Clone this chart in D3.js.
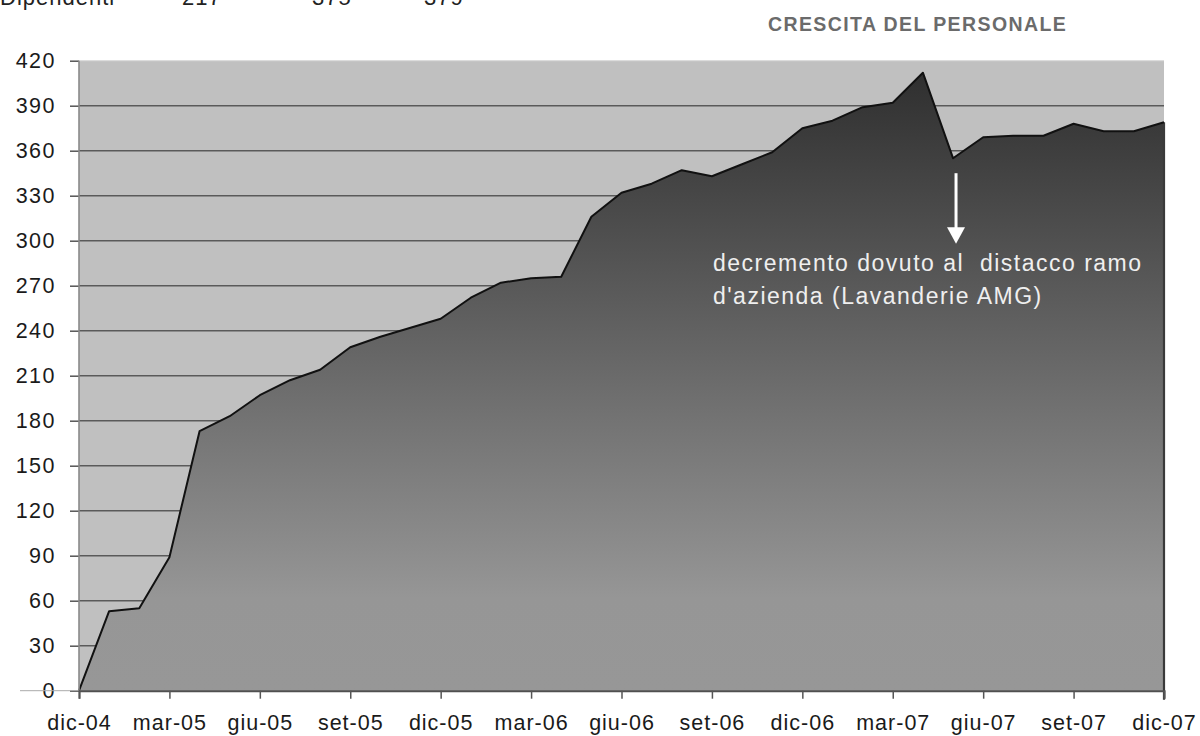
<!DOCTYPE html>
<html>
<head>
<meta charset="utf-8">
<script src="https://cdn.jsdelivr.net/npm/d3@7"></script>
<style>
  body { margin: 0; background: #fff; }
  svg { display: block; font-family: "Liberation Sans", Arial, sans-serif; }
</style>
</head>
<body>
<div id="chart"></div>
<script>
// monthly headcount, dic-04 .. dic-07
const months = [
  "dic-04", "gen-05", "feb-05", "mar-05", "apr-05", "mag-05", "giu-05", "lug-05", "ago-05",
  "set-05", "ott-05", "nov-05", "dic-05", "gen-06", "feb-06", "mar-06", "apr-06", "mag-06",
  "giu-06", "lug-06", "ago-06", "set-06", "ott-06", "nov-06", "dic-06", "gen-07", "feb-07",
  "mar-07", "apr-07", "mag-07", "giu-07", "lug-07", "ago-07", "set-07", "ott-07", "nov-07", "dic-07"
];
const staff = [
  0, 53, 55, 89, 173, 183, 197, 207, 214,
  229, 236, 242, 248, 262, 272, 275, 276, 316,
  332, 338, 347, 343, 351, 359, 375, 380, 389,
  392, 412, 355, 369, 370, 370, 378, 373, 373, 379
];
const tickLabels = ["dic-04", "mar-05", "giu-05", "set-05", "dic-05", "mar-06", "giu-06",
  "set-06", "dic-06", "mar-07", "giu-07", "set-07", "dic-07"];
const yTicks = [0, 30, 60, 90, 120, 150, 180, 210, 240, 270, 300, 330, 360, 390, 420];
const headerLabels = ["Dipendenti", "217", "375", "379"];

const W = 1200, H = 736;
const plot = { left: 79, right: 1164, top: 60.7, bottom: 690.7 };

const svg = d3.select("#chart").append("svg")
  .attr("width", W)
  .attr("height", H);

const x = d3.scalePoint().domain(months).range([plot.left, plot.right]);
const y = d3.scaleLinear().domain([0, 420]).range([plot.bottom, plot.top]);

// header row, cut off at the top of the page like in the source
const headerX = [0, 182, 312, 424];
svg.selectAll("text.header")
  .data(headerLabels)
  .enter().append("text")
  .attr("class", "header")
  .attr("x", (d, i) => headerX[i])
  .attr("y", 5)
  .attr("fill", "#222")
  .style("font-size", "22px")
  .style("letter-spacing", "1px")
  .text(d => d);

svg.append("text")
  .attr("x", 768)
  .attr("y", 31)
  .attr("fill", "#6b6b6b")
  .style("font-size", "19.5px")
  .style("font-weight", "bold")
  .style("letter-spacing", "1.4px")
  .text("CRESCITA DEL PERSONALE");

// plot background
svg.append("rect")
  .attr("x", plot.left)
  .attr("y", plot.top)
  .attr("width", plot.right - plot.left)
  .attr("height", plot.bottom - plot.top)
  .attr("fill", "#c0c0c0");

svg.append("line")
  .attr("x1", plot.left).attr("x2", plot.right)
  .attr("y1", plot.top).attr("y2", plot.top)
  .attr("stroke", "#d8d8d8")
  .attr("stroke-width", 1);

// gridlines
svg.append("g")
  .selectAll("line")
  .data(yTicks.filter(d => d > 0 && d < 420))
  .enter().append("line")
  .attr("x1", plot.left).attr("x2", plot.right)
  .attr("y1", d => y(d)).attr("y2", d => y(d))
  .attr("stroke", "#5a5a5a")
  .attr("stroke-width", 1.6);

// gradient for the area
const defs = svg.append("defs");
const grad = defs.append("linearGradient")
  .attr("id", "areaFill")
  .attr("gradientUnits", "userSpaceOnUse")
  .attr("x1", 0).attr("x2", 0)
  .attr("y1", y(d3.max(staff))).attr("y2", y(0));
grad.append("stop").attr("offset", "0%").attr("stop-color", "#2f2f2f");
grad.append("stop").attr("offset", "85%").attr("stop-color", "#969696");
grad.append("stop").attr("offset", "100%").attr("stop-color", "#979797");

const series = months.map((m, i) => ({ m: m, v: staff[i] }));

const area = d3.area()
  .x(d => x(d.m))
  .y0(y(0))
  .y1(d => y(d.v));

svg.append("path")
  .datum(series)
  .attr("d", area)
  .attr("fill", "url(#areaFill)")
  .attr("stroke", "none");

// right edge of the area
svg.append("line")
  .attr("x1", x("dic-07")).attr("x2", x("dic-07"))
  .attr("y1", y(staff[staff.length - 1])).attr("y2", plot.bottom + 9)
  .attr("stroke", "#3a3a3a")
  .attr("stroke-width", 2.2);

const line = d3.line()
  .x(d => x(d.m))
  .y(d => y(d.v));

svg.append("path")
  .datum(series)
  .attr("d", line)
  .attr("fill", "none")
  .attr("stroke", "#111")
  .attr("stroke-width", 2)
  .attr("stroke-linejoin", "round");

// y axis
const yAxis = svg.append("g")
  .attr("transform", `translate(${plot.left},0)`)
  .call(d3.axisLeft(y).tickValues(yTicks).tickSize(9).tickPadding(14));
yAxis.select(".domain").remove();
yAxis.selectAll(".tick line").attr("stroke", "#555").attr("stroke-width", 1.5);
yAxis.selectAll(".tick text")
  .attr("fill", "#1a1a1a")
  .style("font-size", "21.5px")
  .style("letter-spacing", "1.5px")
  .style("font-family", "'Liberation Sans', Arial, sans-serif");

svg.append("line")
  .attr("x1", plot.left).attr("x2", plot.left)
  .attr("y1", plot.top).attr("y2", plot.bottom)
  .attr("stroke", "#8a8a8a")
  .attr("stroke-width", 1.6);

// faint line through the zero label
svg.append("line")
  .attr("x1", 20).attr("x2", plot.left)
  .attr("y1", y(0)).attr("y2", y(0))
  .attr("stroke", "#aaa")
  .attr("stroke-width", 1);

// x axis
const xAxis = svg.append("g")
  .attr("transform", `translate(0,${plot.bottom})`)
  .call(d3.axisBottom(x).tickValues(tickLabels).tickSize(8).tickPadding(16));
xAxis.select(".domain")
  .attr("stroke", "#505050")
  .attr("stroke-width", 2);
xAxis.selectAll(".tick line").attr("stroke", "#555").attr("stroke-width", 1.5);
xAxis.selectAll(".tick text")
  .attr("fill", "#1a1a1a")
  .style("font-size", "21.5px")
  .style("letter-spacing", "1px")
  .style("font-family", "'Liberation Sans', Arial, sans-serif");

// annotation
const arrowX = x("mag-07") + 3;
svg.append("line")
  .attr("x1", arrowX).attr("x2", arrowX)
  .attr("y1", y(345)).attr("y2", y(307))
  .attr("stroke", "#fff")
  .attr("stroke-width", 3);
svg.append("path")
  .attr("d", `M${arrowX - 9},${y(309)} L${arrowX + 9},${y(309)} L${arrowX},${y(298)} Z`)
  .attr("fill", "#fff");

const note = ["decremento dovuto al  distacco ramo", "d'azienda (Lavanderie AMG)"];
svg.selectAll("text.note")
  .data(note)
  .enter().append("text")
  .attr("class", "note")
  .attr("x", x("set-06") + 1)
  .attr("y", (d, i) => 271 + i * 33)
  .attr("fill", "#efefef")
  .style("font-size", "23px")
  .style("letter-spacing", "1.5px")
  .style("white-space", "pre")
  .text(d => d);
</script>
</body>
</html>
